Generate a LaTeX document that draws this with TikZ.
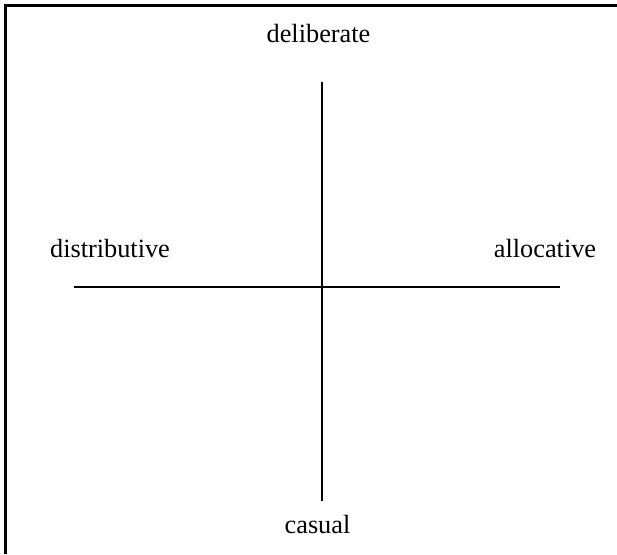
\documentclass[tikz,border=0pt]{standalone}
\usepackage{fontspec}
\setmainfont{Liberation Serif}
\begin{document}
\begin{tikzpicture}[x=1pt,y=-1pt,
  lbl/.style={anchor=base,inner sep=0pt,font=\fontsize{26.3}{30}\selectfont},
  axis/.style={line width=2pt},
  frame/.style={line width=2.2pt}]
\useasboundingbox (0,0) rectangle (617,554);
\coordinate (fTR) at (617,5.5);
\coordinate (fTL) at (5.5,5.5);
\coordinate (fBL) at (5.5,554);
\draw[frame] (fTR) -- (fTL) -- (fBL);
\coordinate (vt) at (321.5,82);
\coordinate (vb) at (321.5,501);
\coordinate (hl) at (74,287);
\coordinate (hr) at (560,287);
\draw[axis] (vt) -- (vb);
\draw[axis] (hl) -- (hr);
\node[lbl] (deliberate) at (318.5,42) {deliberate};
\node[lbl] (distributive) at (110,257) {distributive};
\node[lbl] (allocative) at (545,257) {allocative};
\node[lbl] (casual) at (317.5,533) {casual};
\end{tikzpicture}
\end{document}
